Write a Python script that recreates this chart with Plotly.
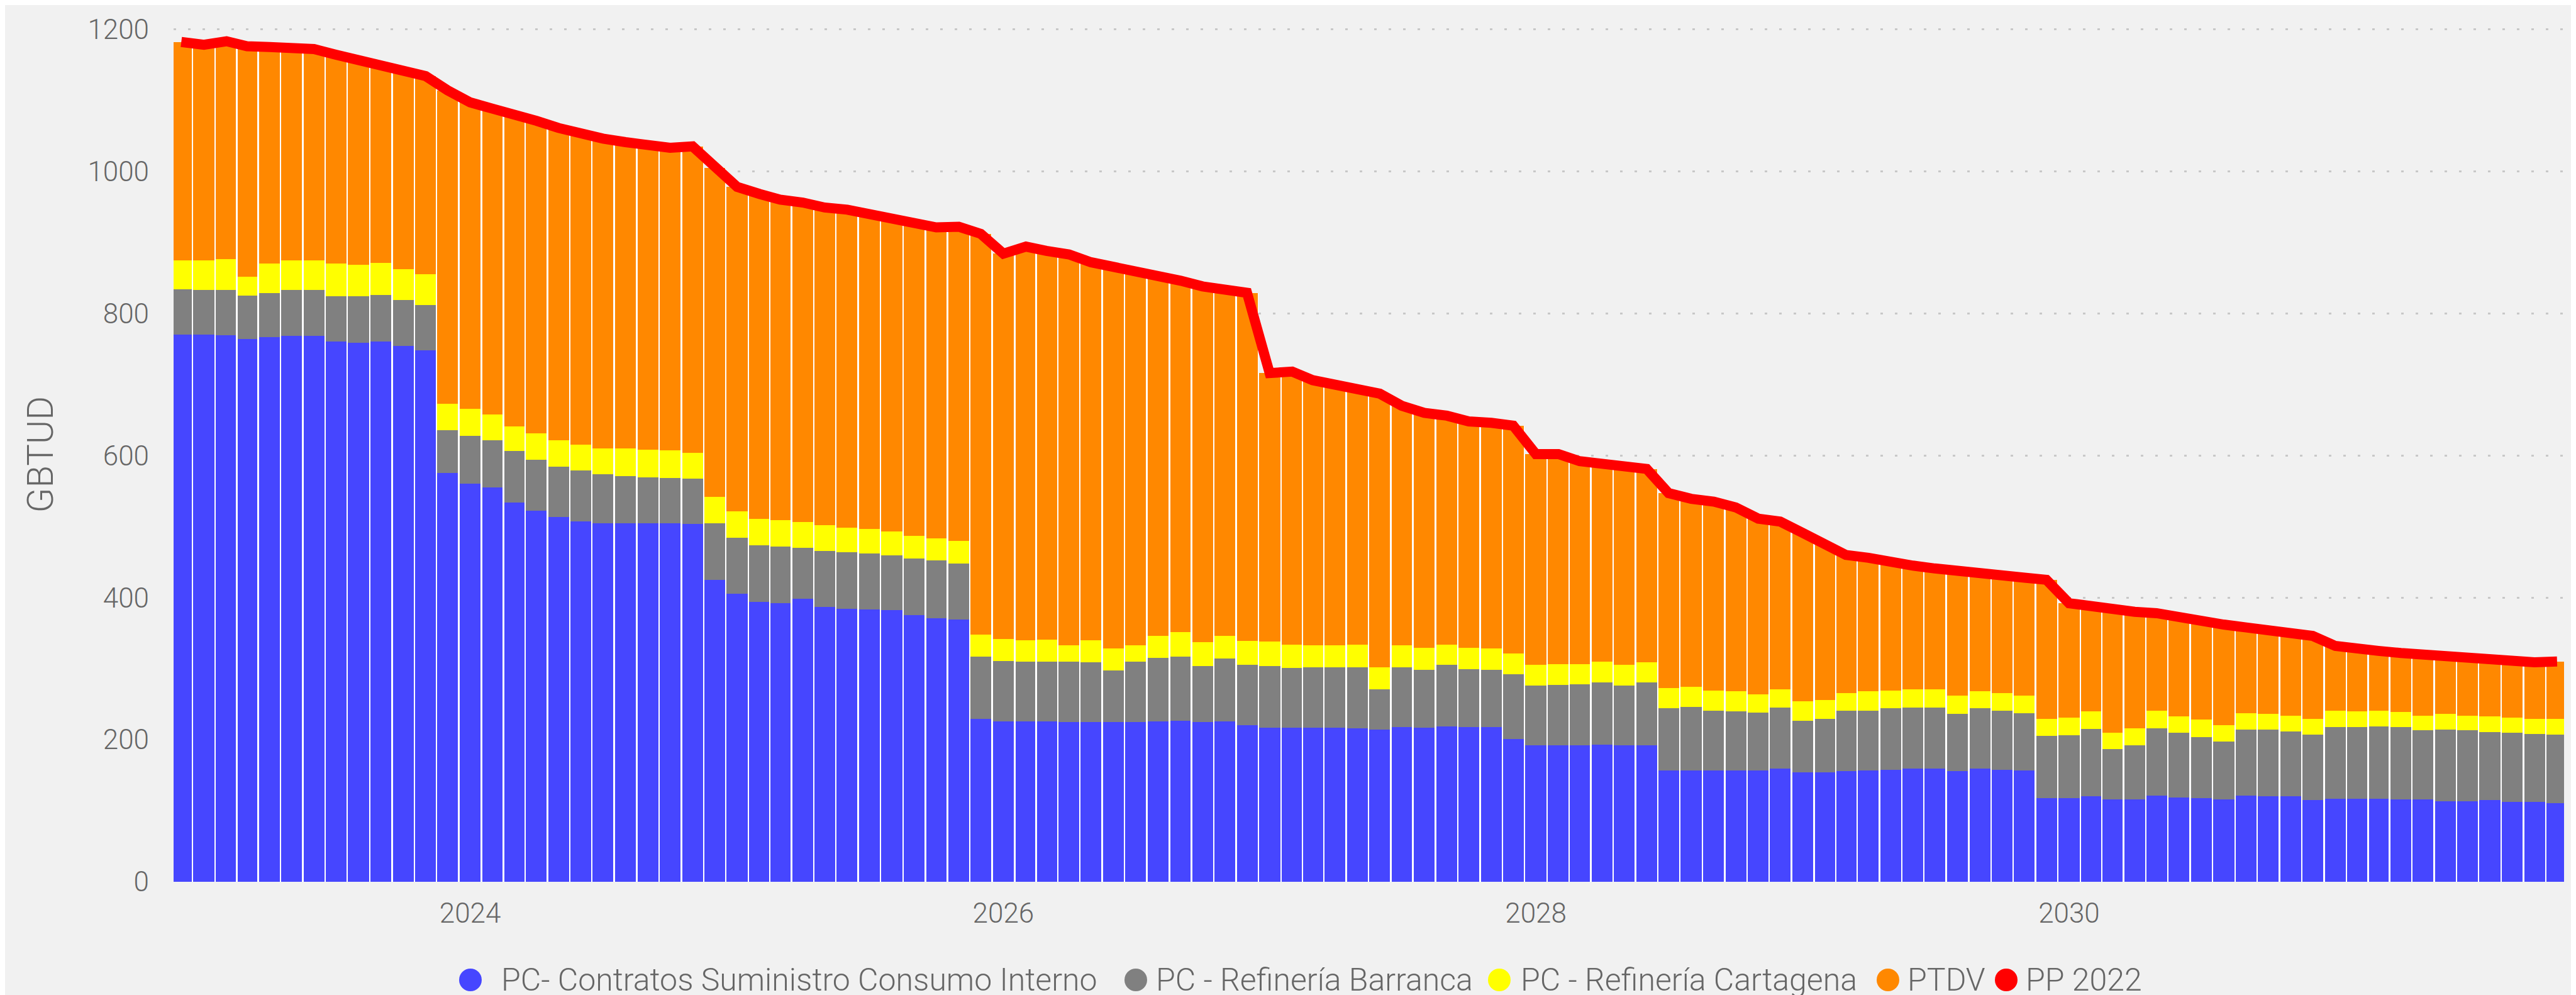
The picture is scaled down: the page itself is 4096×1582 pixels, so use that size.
import numpy as np
import pandas as pd
import plotly.graph_objects as go

# ---------------- data ----------------
months = pd.date_range("2022-12-01", periods=108, freq="MS")

consumo_interno = [
    770, 770, 769, 764, 767, 768, 768, 760, 759, 760, 754, 748,
    575, 560, 555, 534, 522, 513, 507, 505, 505, 505, 505, 504,
    425, 405, 394, 392, 398, 387, 384, 383, 382, 375, 371, 369,
    229, 226, 226, 226, 225, 225, 225, 225, 226, 227, 225, 226,
    220, 217, 217, 217, 217, 216, 214, 218, 217, 219, 218, 218,
    201, 192, 192, 192, 193, 192, 192, 157, 157, 157, 157, 157,
    159, 154, 154, 156, 157, 158, 159, 159, 156, 159, 158, 157,
    118, 118, 120, 116, 116, 121, 119, 118, 116, 121, 120, 120,
    115, 117, 117, 117, 116, 116, 113, 113, 115, 112, 112, 111,
]
barranca = [
    64, 63, 64, 61, 62, 65, 65, 64, 65, 66, 65, 64,
    61, 68, 66, 72, 72, 71, 72, 69, 66, 64, 63, 63,
    80, 79, 80, 80, 72, 79, 80, 79, 77, 80, 81, 79,
    88, 85, 84, 84, 85, 84, 72, 85, 89, 90, 79, 88,
    85, 87, 84, 85, 85, 86, 57, 84, 81, 86, 81, 80,
    91, 84, 85, 86, 88, 84, 89, 87, 89, 84, 83, 81,
    86, 73, 75, 85, 84, 86, 86, 86, 80, 85, 83, 80,
    87, 88, 95, 71, 76, 95, 91, 86, 81, 93, 94, 92,
    92, 101, 101, 102, 102, 97, 101, 100, 96, 98, 96, 96,
]
cartagena = [
    41, 42, 43, 27, 41, 42, 42, 46, 44, 45, 43, 43,
    37, 38, 37, 35, 37, 37, 36, 36, 39, 39, 39, 37,
    37, 37, 37, 37, 36, 36, 34, 35, 34, 32, 31, 32,
    31, 31, 30, 31, 23, 31, 31, 23, 31, 34, 33, 32,
    34, 34, 33, 31, 31, 32, 31, 31, 31, 29, 30, 30,
    29, 29, 29, 28, 29, 29, 28, 29, 28, 28, 28, 26,
    26, 27, 27, 25, 27, 25, 26, 26, 26, 24, 25, 25,
    24, 25, 25, 23, 24, 25, 23, 24, 23, 23, 22, 22,
    22, 23, 22, 22, 21, 21, 22, 21, 22, 21, 21, 22,
]
ptdv = [
    307, 303, 307, 324, 305, 300, 297, 294, 288, 278, 278, 279,
    441, 431, 430, 440, 440, 440, 437, 436, 431, 428, 426, 431,
    463, 457, 457, 451, 450, 447, 448, 443, 443, 442, 438, 442,
    564, 542, 554, 547, 550, 532, 538, 527, 508, 495, 501, 488,
    490, 378, 384, 373, 367, 357, 385, 337, 331, 322, 319, 318,
    321, 297, 296, 286, 279, 278, 272, 274, 265, 266, 259, 247,
    236, 237, 219, 194, 188, 180, 174, 170, 175, 165, 163, 166,
    196, 161, 148, 173, 164, 137, 139, 138, 142, 121, 118, 117,
    117, 91, 87, 84, 83, 86, 81, 81, 80, 79, 80, 81,
]
pp_2022 = [
    1182, 1178, 1183, 1176, 1175, 1175, 1172, 1164, 1156, 1149, 1140, 1134,
    1114, 1097, 1088, 1081, 1071, 1061, 1052, 1046, 1041, 1036, 1033, 1035,
    1005, 978, 968, 960, 956, 949, 946, 940, 936, 929, 921, 922,
    912, 884, 894, 888, 883, 872, 866, 860, 854, 846, 838, 834,
    829, 716, 718, 706, 700, 691, 687, 670, 660, 656, 648, 646,
    642, 602, 602, 592, 589, 583, 581, 547, 539, 535, 527, 511,
    507, 491, 475, 460, 456, 449, 445, 441, 437, 433, 429, 428,
    425, 392, 388, 383, 380, 378, 372, 366, 362, 358, 354, 351,
    346, 332, 327, 325, 322, 320, 317, 315, 313, 310, 309, 310,
]

series_names = ["PC- Contratos Suministro Consumo Interno", "PC - Refinería Barranca",
                "PC - Refinería Cartagena", "PTDV"]
line_name = "PP 2022"
year_ticks = ["2024-01-01", "2026-01-01", "2028-01-01", "2030-01-01"]
year_labels = ["2024", "2026", "2028", "2030"]
y_ticks = [0, 200, 400, 600, 800, 1000, 1200]

# ---------------- styles ----------------
colors = ["#4646FF", "#808080", "#FFFF00", "#FF8800"]
line_color = "#FF0000"
bg = "#F1F1F1"
txt = "#666666"
W, H = 4096, 1582
ML, MR, MT, MB = 268, 27, 35, 188

# bar geometry in date units (each bar spans half a month either side of its date)
prev_m = months - pd.DateOffset(months=1)
next_m = months + pd.DateOffset(months=1)
left_ms = np.asarray((months - prev_m).total_seconds()) * 1000 / 2
right_ms = np.asarray((next_m - months).total_seconds()) * 1000 / 2
gap_ms = 2.1 * 86400000
full_off = list(-left_ms)
full_w = list(left_ms + right_ms)
seg_off = list(-left_ms + gap_ms / 2)
seg_w = list(left_ms + right_ms - gap_ms)

stack = [np.array(consumo_interno), np.array(barranca), np.array(cartagena), np.array(ptdv)]
totals = sum(stack)
x = list(months)

fig = go.Figure()
# white backing (forms the thin white separators between bars)
fig.add_trace(go.Bar(x=x, y=list(totals), base=0, offset=full_off, width=full_w,
                     marker=dict(color="#FFFFFF", line=dict(width=0)),
                     showlegend=False, hoverinfo="skip"))
base = np.zeros(len(x))
for vals, name, col in zip(stack, series_names, colors):
    fig.add_trace(go.Bar(x=x, y=list(vals), base=list(base), name=name,
                         offset=seg_off, width=seg_w,
                         marker=dict(color=col, line=dict(width=0)),
                         showlegend=False))
    base = base + vals
fig.add_trace(go.Scatter(x=x, y=pp_2022, name=line_name, mode="lines",
                         line=dict(color=line_color, width=16), showlegend=False))

plot_w = W - ML - MR
plot_h = H - MT - MB

# legend (drawn as real text + circle symbols, Power BI style)
leg_items = [(series_names[0], colors[0], 740, 787),
             (series_names[1], colors[1], 1798, 1828),
             (series_names[2], colors[2], 2376, 2408),
             (series_names[3], colors[3], 2994, 3023),
             (line_name, line_color, 3182, 3211)]
leg_y_px = 1550
annotations = []
shapes = []
for name, col, cx, tx in leg_items:
    xc = (cx - ML) / plot_w
    yc = (MT + plot_h - leg_y_px) / plot_h
    shapes.append(dict(type="circle", xref="paper", yref="paper",
                       xsizemode="pixel", ysizemode="pixel",
                       xanchor=xc, yanchor=yc, x0=-18, x1=18, y0=-18, y1=18,
                       fillcolor=col, line=dict(width=0)))
    annotations.append(dict(text=name, xref="paper", yref="paper",
                            x=(tx - ML) / plot_w, y=yc, xanchor="left", yanchor="middle",
                            showarrow=False,
                            font=dict(family="Roboto", size=50, color=txt, weight=300)))

fig.update_layout(
    width=W, height=H,
    margin=dict(l=ML, r=MR, t=MT, b=MB, pad=0),
    paper_bgcolor=bg, plot_bgcolor=bg,
    barmode="overlay", bargap=0, showlegend=False,
    font=dict(family="Roboto", color=txt, weight=300),
    xaxis=dict(type="date", range=["2022-11-20 10:00", "2031-11-10 14:00"],
               tickvals=year_ticks, ticktext=year_labels,
               showgrid=False, zeroline=False, showline=False, ticks="",
               tickfont=dict(family="Roboto", size=44, color=txt, weight=300),
               ticklabelstandoff=20),
    yaxis=dict(range=[0, 1203], tickvals=y_ticks, showgrid=True,
               gridcolor="#C8C8C8", gridwidth=3, griddash="4px,19px",
               zeroline=False, showline=False, ticks="",
               tickfont=dict(family="Roboto", size=44, color=txt, weight=300),
               ticklabelstandoff=38,
               title=dict(text="GBTUD",
                          font=dict(family="Roboto", size=58, color=txt, weight=300),
                          standoff=36)),
    annotations=annotations, shapes=shapes,
)

fig.write_html("out.html")
